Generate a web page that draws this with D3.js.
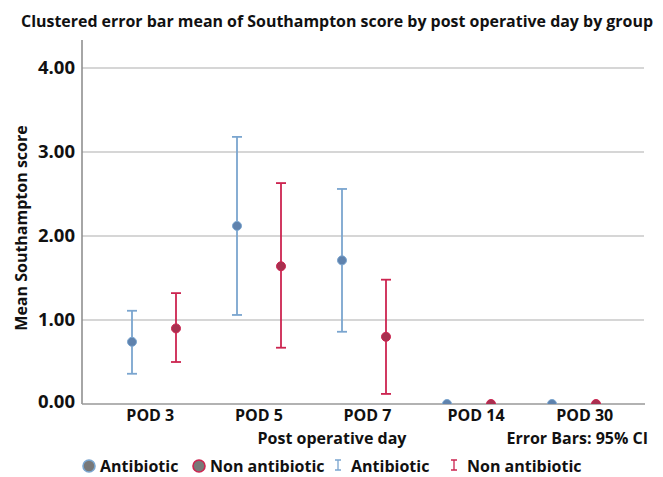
<!DOCTYPE html>
<html>
<head>
<meta charset="utf-8">
<script src="https://cdn.jsdelivr.net/npm/d3@7"></script>
<style>
  body { margin: 0; background: #fff; }
  text { font-family: "Open Sans", "Liberation Sans", sans-serif; font-weight: 700; fill: #111; }
</style>
</head>
<body>
<svg id="chart" width="663" height="477"></svg>
<script>
// Data
const days = ['POD 3', 'POD 5', 'POD 7', 'POD 14', 'POD 30'];
const groups = ['Antibiotic', 'Non antibiotic'];
const antibioticMean = [0.74, 2.12, 1.71, 0, 0];
const antibioticLow  = [0.36, 1.06, 0.86, 0, 0];
const antibioticHigh = [1.11, 3.18, 2.56, 0, 0];
const nonMean = [0.90, 1.64, 0.80, 0, 0];
const nonLow  = [0.50, 0.67, 0.12, 0, 0];
const nonHigh = [1.32, 2.63, 1.48, 0, 0];
const yTicks = [0, 1, 2, 3, 4];

const colors = {
  'Antibiotic': { bar: '#7aa5cf', dot: '#5f82ad' },
  'Non antibiotic': { bar: '#cc2450', dot: '#a8304f' }
};

const rows = [];
days.forEach((d, i) => {
  rows.push({ day: d, group: groups[0], mean: antibioticMean[i], lo: antibioticLow[i], hi: antibioticHigh[i] });
  rows.push({ day: d, group: groups[1], mean: nonMean[i], lo: nonLow[i], hi: nonHigh[i] });
});

const svg = d3.select('#chart');
const plotLeft = 82, plotRight = 645, plotTop = 40, plotBottom = 404;

// marks and tick labels sit on slightly different spacings in the original
const x = d3.scaleBand().domain(days).range([101.5, 626.5]);
const xLabels = d3.scaleBand().domain(days).range([96, 639]);
const xSub = d3.scalePoint().domain(groups).range([-22, 22]);
const y = d3.scaleLinear().domain([0, 4]).range([plotBottom, 68]);

// title
svg.append('text')
  .attr('x', 337).attr('y', 27)
  .attr('text-anchor', 'middle')
  .attr('font-size', 16)
  .attr('textLength', 632).attr('lengthAdjust', 'spacingAndGlyphs')
  .text('Clustered error bar mean of Southampton score by post operative day by group');

// gridlines
svg.append('g').selectAll('line')
  .data(yTicks.filter(t => t > 0))
  .join('line')
  .attr('x1', plotLeft).attr('x2', plotRight - 1)
  .attr('y1', d => y(d)).attr('y2', d => y(d))
  .attr('stroke', '#c8c8c8').attr('stroke-width', 1.3);

// y axis
const yAxis = svg.append('g')
  .attr('transform', `translate(${plotLeft},0)`)
  .call(d3.axisLeft(y).tickValues(yTicks).tickFormat(d3.format('.2f')).tickSize(0).tickPadding(7));
yAxis.select('.domain').attr('stroke', '#888').attr('stroke-width', 1.5)
  .attr('d', `M0,${plotTop}V${plotBottom}`);
yAxis.selectAll('text').attr('font-size', 18.5).attr('fill', '#111')
  .attr('font-family', '"Open Sans", sans-serif').attr('font-weight', 700);
yAxis.selectAll('.tick').filter(d => d === 0).select('text').attr('dy', '0.2em');

// x axis
const xAxis = svg.append('g')
  .attr('transform', `translate(0,${plotBottom})`)
  .call(d3.axisBottom(xLabels).tickSize(0).tickPadding(6));
xAxis.select('.domain').attr('stroke', '#999').attr('stroke-width', 1.5)
  .attr('d', `M${plotLeft},0H${plotRight}`);
xAxis.selectAll('text').attr('font-size', 16).attr('fill', '#111')
  .attr('font-family', '"Open Sans", sans-serif').attr('font-weight', 700);

// axis titles
svg.append('text')
  .attr('transform', `translate(27,228) rotate(-90)`)
  .attr('text-anchor', 'middle').attr('font-size', 16)
  .text('Mean Southampton score');
svg.append('text')
  .attr('x', 332).attr('y', 444)
  .attr('text-anchor', 'middle').attr('font-size', 16)
  .text('Post operative day');
svg.append('text')
  .attr('x', 648).attr('y', 444)
  .attr('text-anchor', 'end').attr('font-size', 16)
  .text('Error Bars: 95% CI');

// marks, clipped at the x axis
svg.append('clipPath').attr('id', 'plotClip')
  .append('rect').attr('x', plotLeft).attr('y', plotTop)
  .attr('width', plotRight - plotLeft).attr('height', plotBottom - plotTop);
const plot = svg.append('g').attr('clip-path', 'url(#plotClip)');

const cx = d => x(d.day) + x.bandwidth() / 2 + xSub(d.group);
const bars = rows.filter(d => d.hi > d.lo);

plot.selectAll('line.whisker')
  .data(bars)
  .join('line').attr('class', 'whisker')
  .attr('x1', cx).attr('x2', cx)
  .attr('y1', d => y(d.lo)).attr('y2', d => y(d.hi))
  .attr('stroke', d => colors[d.group].bar).attr('stroke-width', 1.8);

['lo', 'hi'].forEach(k => {
  plot.selectAll(`line.cap-${k}`)
    .data(bars)
    .join('line').attr('class', `cap-${k}`)
    .attr('x1', d => cx(d) - 5).attr('x2', d => cx(d) + 5)
    .attr('y1', d => y(d[k])).attr('y2', d => y(d[k]))
    .attr('stroke', d => colors[d.group].bar).attr('stroke-width', 1.8);
});

plot.selectAll('circle.mean')
  .data(rows)
  .join('circle').attr('class', 'mean')
  .attr('cx', cx).attr('cy', d => y(d.mean))
  .attr('r', 4.5)
  .attr('fill', d => colors[d.group].dot)
  .attr('stroke', d => colors[d.group].bar).attr('stroke-width', 1);

// legend
const legend = svg.append('g').attr('transform', 'translate(0,466)');
const items = [
  { type: 'dot', group: groups[0], x: 89 },
  { type: 'dot', group: groups[1], x: 199 },
  { type: 'bar', group: groups[0], x: 338 },
  { type: 'bar', group: groups[1], x: 454 }
];
items.forEach(it => {
  const g = legend.append('g').attr('transform', `translate(${it.x},0)`);
  if (it.type === 'dot') {
    g.append('circle').attr('r', 6)
      .attr('fill', '#787878').attr('stroke', colors[it.group].bar).attr('stroke-width', 1.6);
  } else {
    g.append('path').attr('d', 'M-3,-6H3M0,-6V4M-3,4H3')
      .attr('fill', 'none').attr('stroke', colors[it.group].bar).attr('stroke-width', 1.3);
  }
  g.append('text').attr('x', it.type === 'dot' ? 11 : 13).attr('y', 6)
    .attr('font-size', 16).text(it.group);
});
</script>
</body>
</html>
